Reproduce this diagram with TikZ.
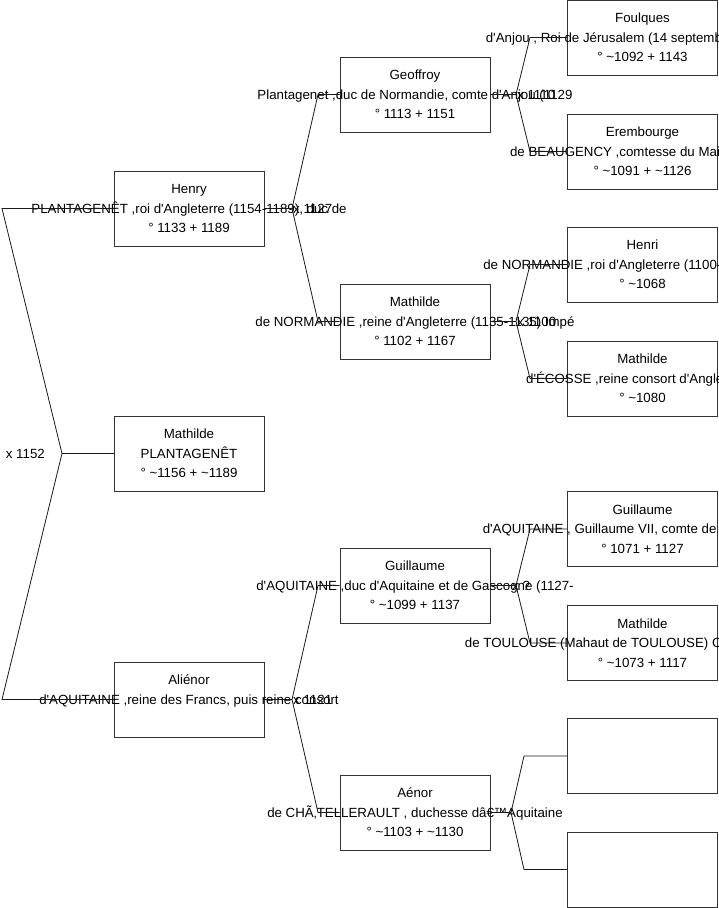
\documentclass[tikz,border=0pt]{standalone}
\usepackage{fontspec}
\newfontfamily\arialfont{Liberation Sans}
\newcommand{\abt}{\textasciitilde}
\usetikzlibrary{positioning}

\begin{document}
\begin{tikzpicture}[x=1pt, y=-1pt,
  person/.style={draw=black!80, line width=0.8pt, minimum width=150pt, minimum height=75pt, inner sep=0pt},
  info/.style={font=\arialfont\fontsize{13.3}{19.5}\selectfont, align=center, inner sep=0pt},
  wed/.style={font=\arialfont\fontsize{13.3}{15}\selectfont, inner sep=0pt},
  link/.style={line width=0.8pt, draw=black!90}
]
\useasboundingbox (0,0) rectangle (719,908);
% generation 1
\node[person, label={[info]center:{Henry\\PLANTAGENÊT ,roi d'Angleterre (1154-1189), duc de\\° 1133 + 1189}}] (henry) at (189,208.5) {};
\node[person, label={[info]center:{Mathilde\\PLANTAGENÊT\\° \abt1156 + \abt1189}}] (mathp) at (189,453.5) {};
\node[person, label={[info]center:{Aliénor\\d'AQUITAINE ,reine des Francs, puis reine consort\\\mbox{}}}] (alienor) at (189,699.5) {};
% generation 2
\node[person, label={[info]center:{Geoffroy\\Plantagenet ,duc de Normandie, comte d'Anjou (1129\\° 1113 + 1151}}] (geoffroy) at (415,94.5) {};
\node[person, label={[info]center:{Mathilde\\de NORMANDIE ,reine d'Angleterre (1135-1135) Impé\\° 1102 + 1167}}] (mathn) at (415,321.5) {};
\node[person, label={[info]center:{Guillaume\\d'AQUITAINE ,duc d'Aquitaine et de Gascogne (1127-\\° \abt1099 + 1137}}] (guillx) at (415,585.5) {};
\node[person, label={[info]center:{Aénor\\de CHÃ‚TELLERAULT , duchesse dâ€™Aquitaine\\° \abt1103 + \abt1130}}] (aenor) at (415,812.5) {};
% generation 3
\node[person, label={[info]center:{Foulques\\d'Anjou , Roi de Jérusalem (14 septembre 1131-1143\\° \abt1092 + 1143}}] (foulques) at (642.5,37.5) {};
\node[person, label={[info]center:{Erembourge\\de BEAUGENCY ,comtesse du Maine (1110)\\° \abt1091 + \abt1126}}] (eremb) at (642.5,151.5) {};
\node[person, label={[info]center:{Henri\\de NORMANDIE ,roi d'Angleterre (1100-1135), duc de\\° \abt1068}}] (henri) at (642.5,264.5) {};
\node[person, label={[info]center:{Mathilde\\d'ÉCOSSE ,reine consort d'Angleterre (\\° \abt1080}}] (mathe) at (642.5,378.5) {};
\node[person, label={[info]center:{Guillaume\\d'AQUITAINE , Guillaume VII, comte de Poitiers (1086\\° 1071 + 1127}}] (guillix) at (642.5,529) {};
\node[person, label={[info]center:{Mathilde\\de TOULOUSE (Mahaut de TOULOUSE) Comtesse de Poiti\\° \abt1073 + 1117}}] (matht) at (642.5,643) {};
\node[person] (blank1) at (642.5,756) {};
\node[person] (blank2) at (642.5,869.5) {};
% marriages
\node[wed, anchor=east] (w0) at (45,453.5) {x 1152};
\node[wed, anchor=west] (w1) at (293,208.5) {x 1127};
\node[wed, anchor=west] (w2) at (293,699.5) {x 1121};
\node[wed, anchor=west] (w3) at (517,94.5) {x 1110};
\node[wed, anchor=west] (w4) at (517,321.5) {x 1100};
\node[wed, anchor=west] (w5) at (512,585.5) {x ?};
% fork points
\coordinate (f0) at (62,453.5);
\coordinate (f0a) at (2,208.5);
\coordinate (f0b) at (2,699.5);
\coordinate (fh) at (292,208.5);
\coordinate (fha) at (318,94.5);
\coordinate (fhb) at (318,321.5);
\coordinate (fa) at (292,699.5);
\coordinate (faa) at (318,585.5);
\coordinate (fab) at (318,812.5);
\coordinate (fg) at (516,94.5);
\coordinate (fga) at (530,37.5);
\coordinate (fgb) at (530,151.5);
\coordinate (fm) at (516,321.5);
\coordinate (fma) at (530,264.5);
\coordinate (fmb) at (530,378.5);
\coordinate (fx) at (516,585.5);
\coordinate (fxa) at (530,529);
\coordinate (fxb) at (530,643);
\coordinate (fe) at (511,812.5);
\coordinate (fea) at (524,756);
\coordinate (feb) at (524,869.5);
% connectors
\draw[link] (mathp.west) -- (f0);
\draw[link] (henry.west) -- (f0a) -- (f0) -- (f0b) -- (alienor.west);
\draw[link] (henry.east) -- (fh);
\draw[link] (geoffroy.west) -- (fha) -- (fh) -- (fhb) -- (mathn.west);
\draw[link] (alienor.east) -- (fa);
\draw[link] (guillx.west) -- (faa) -- (fa) -- (fab) -- (aenor.west);
\draw[link] (geoffroy.east) -- (fg);
\draw[link] (foulques.west) -- (fga) -- (fg) -- (fgb) -- (eremb.west);
\draw[link] (mathn.east) -- (fm);
\draw[link] (henri.west) -- (fma) -- (fm) -- (fmb) -- (mathe.west);
\draw[link] (guillx.east) -- (fx);
\draw[link] (guillix.west) -- (fxa) -- (fx) -- (fxb) -- (matht.west);
\draw[link] (aenor.east) -- (fe);
\draw[link] (blank1.west) -- (fea) -- (fe) -- (feb) -- (blank2.west);
\end{tikzpicture}
\end{document}
